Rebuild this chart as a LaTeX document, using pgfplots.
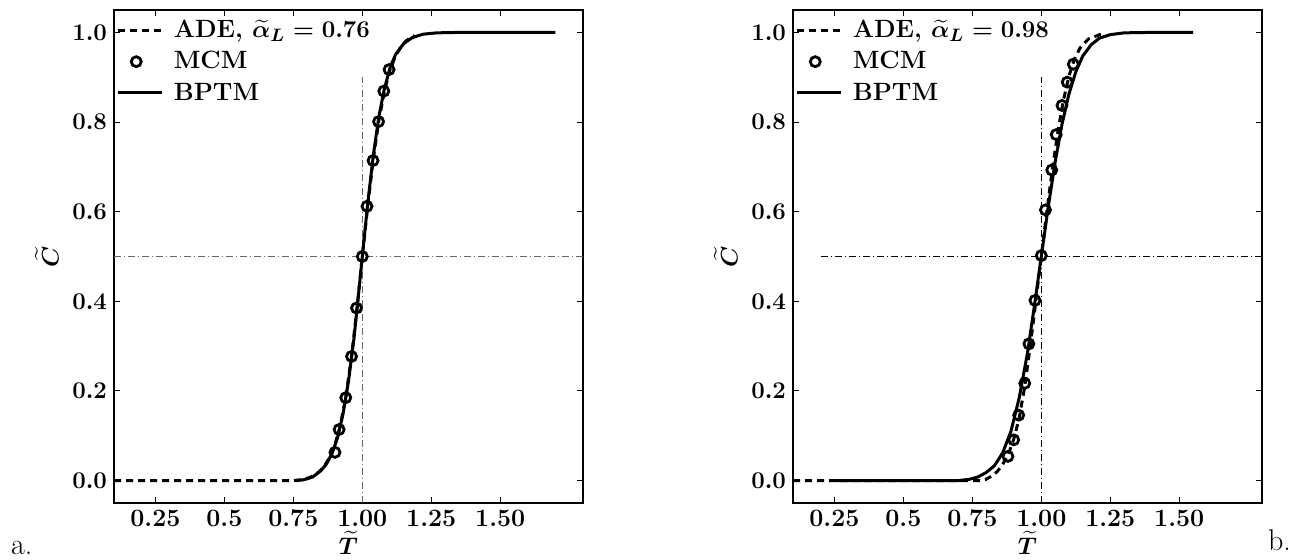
\documentclass[border=0pt]{standalone}
\usepackage{amsmath}
\usepackage{pgfplots}
\pgfplotsset{compat=1.18}

\pgfplotsset{
  cdfpanel/.style={
    scale only axis, width=234.5pt, height=246.5pt,
    xmin=0.1, xmax=1.8, ymin=-0.05, ymax=1.05,
    xtick={0.25,0.5,0.75,1.0,1.25,1.5},
    xticklabels={0.25,0.5,0.75,1.00,1.25,1.50},
    ytick={0,0.2,0.4,0.6,0.8,1.0},
    yticklabel style={/pgf/number format/fixed,/pgf/number format/fixed zerofill,/pgf/number format/precision=1},
    tick align=inside, major tick length=3pt, tick style={black,line width=0.5pt},
    axis line style={line width=1pt},
    ticklabel style={font=\fontsize{12.5}{14}\selectfont\bfseries\boldmath},
    label style={font=\fontsize{13}{15}\selectfont\bfseries\boldmath},
    xlabel={$\widetilde{T}$}, ylabel={$\widetilde{C}$},
    xlabel style={yshift=5pt},
    legend cell align=left,
    legend style={at={(0.005,0.985)}, anchor=north west, draw=none, fill=none,
      font=\fontsize{12.5}{14}\selectfont\bfseries\boldmath, row sep=3.5pt,
      column sep=4pt, inner sep=0pt, nodes={inner sep=1pt}},
    legend image code/.code={\draw[#1] (0pt,0pt) -- (22pt,0pt);},
  },
  ade/.style={black, line width=1.5pt, dash pattern=on 3.5pt off 2.5pt},
  bptm/.style={black, line width=1.5pt},
  mcm/.style={only marks, mark=o, mark size=2.5pt, mark options={black, fill=white, line width=1.4pt},
    legend image code/.code={\draw[mark=o,mark size=2.5pt,mark options={black,fill=white,line width=1.4pt}] plot coordinates {(9pt,0pt)};}},
  guide/.style={line width=0.5pt, dash pattern=on 3.5pt off 1.5pt on 0.5pt off 1.5pt},
}

\begin{document}
\begin{tikzpicture}
\useasboundingbox (-57pt,-28.5pt) rectangle (592.5pt,251.5pt);

\begin{axis}[cdfpanel]
\addplot[guide, black!60, forget plot] coordinates {(0.1,0.5) (1.8,0.5)};
\addplot[guide, black!60, forget plot] coordinates {(1.0,-0.05) (1.0,0.9)};
\addplot[ade] coordinates {
 (0.10,0) (0.75,0) (0.78,0.002) (0.81,0.007) (0.84,0.018) (0.86,0.03) (0.88,0.05)
 (0.90,0.078) (0.92,0.122) (0.94,0.186) (0.96,0.272) (0.98,0.38) (1.00,0.5)
 (1.02,0.614) (1.04,0.718) (1.06,0.803) (1.08,0.868) (1.10,0.915) (1.12,0.947)
 (1.14,0.968) (1.16,0.982) (1.19,0.993)};
\addlegendentry{ADE, $\widetilde{\alpha}_L=0.76$}
\addplot[mcm] coordinates {
 (0.901,0.063) (0.916,0.114) (0.940,0.185) (0.961,0.277) (0.979,0.385) (1.000,0.500)
 (1.017,0.612) (1.039,0.714) (1.059,0.801) (1.078,0.869) (1.097,0.917)};
\addlegendentry{MCM}
\addplot[bptm] coordinates {
 (0.76,0) (0.79,0.002) (0.82,0.008) (0.85,0.022) (0.87,0.037) (0.89,0.06)
 (0.91,0.095) (0.93,0.148) (0.95,0.222) (0.97,0.318) (0.99,0.438) (1.00,0.5)
 (1.02,0.62) (1.04,0.726) (1.06,0.812) (1.08,0.874) (1.10,0.92) (1.12,0.95)
 (1.15,0.975) (1.18,0.988) (1.22,0.996) (1.27,0.999) (1.35,1.0) (1.70,1.0)};
\addlegendentry{BPTM}
\end{axis}

\begin{axis}[cdfpanel, at={(339.5pt,0pt)}, anchor=south west]
\addplot[guide, black, forget plot] coordinates {(0.2,0.5) (1.8,0.5)};
\addplot[guide, black, forget plot] coordinates {(1.0,-0.05) (1.0,0.9)};
\addplot[ade] coordinates {
 (0.10,0) (0.78,0) (0.80,0.003) (0.82,0.01) (0.84,0.02) (0.86,0.036) (0.88,0.058)
 (0.90,0.092) (0.92,0.14) (0.94,0.21) (0.96,0.3) (0.98,0.4) (1.00,0.5) (1.02,0.6)
 (1.04,0.695) (1.06,0.778) (1.08,0.848) (1.10,0.902) (1.12,0.94) (1.14,0.965)
 (1.17,0.985) (1.22,0.997)};
\addlegendentry{ADE, $\widetilde{\alpha}_L=0.98$}
\addplot[mcm] coordinates {
 (0.879,0.054) (0.900,0.091) (0.918,0.146) (0.940,0.217) (0.955,0.305) (0.977,0.402)
 (1.000,0.502) (1.015,0.604) (1.038,0.693) (1.054,0.772) (1.075,0.837) (1.094,0.889)
 (1.116,0.929)};
\addlegendentry{MCM}
\addplot[bptm] coordinates {
 (0.25,0) (0.70,0) (0.74,0.003) (0.77,0.008) (0.80,0.018) (0.83,0.033) (0.86,0.062)
 (0.89,0.11) (0.92,0.185) (0.95,0.285) (0.975,0.39) (1.00,0.5) (1.025,0.61)
 (1.05,0.71) (1.075,0.795) (1.10,0.862) (1.125,0.912) (1.15,0.947) (1.18,0.972)
 (1.21,0.987) (1.25,0.995) (1.30,0.999) (1.40,1.0) (1.55,1.0)};
\addlegendentry{BPTM}
\end{axis}

\node[anchor=base west, font=\fontsize{15}{17}\selectfont] at (-55pt,-26pt) {a.};
\node[anchor=base east, font=\fontsize{15}{17}\selectfont] at (592pt,-24pt) {b.};
\end{tikzpicture}
\end{document}
